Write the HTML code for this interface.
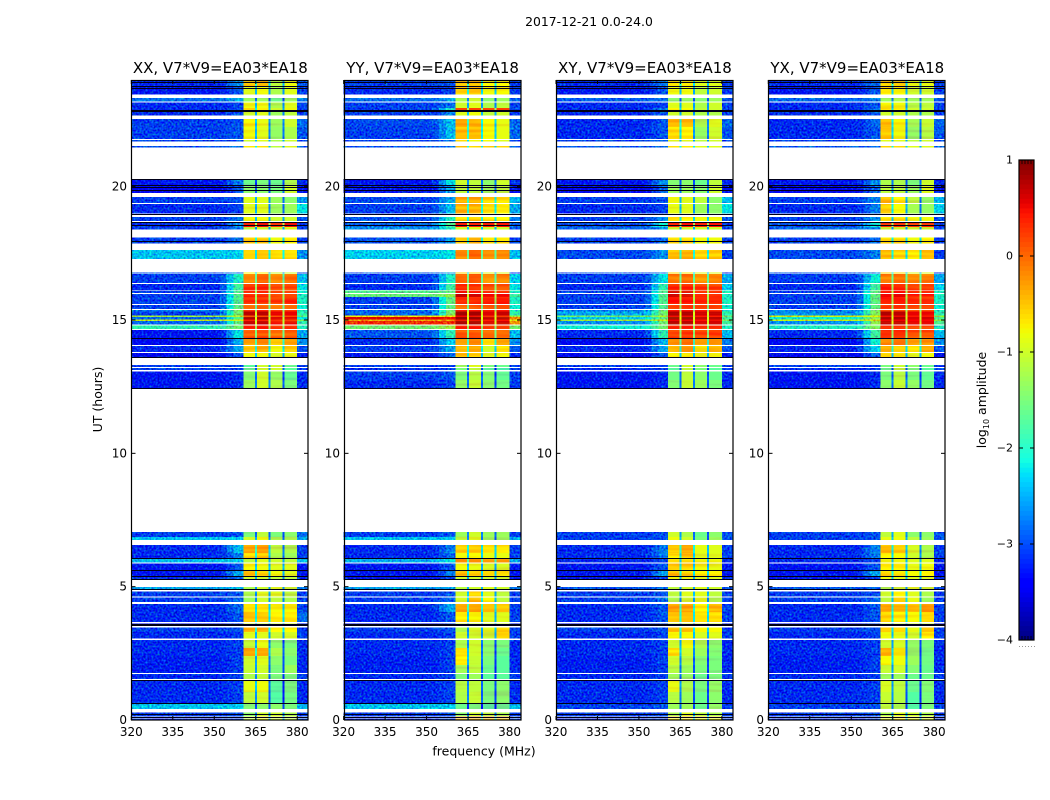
<!DOCTYPE html>
<html lang="en">
<head>
<meta charset="utf-8">
<title>2017-12-21 0.0-24.0</title>
<style>
html,body{margin:0;padding:0;background:#fff;}
body{width:1050px;height:800px;overflow:hidden;}
svg{display:block;}
text{font-family:"DejaVu Sans","Liberation Sans",sans-serif;fill:#000;}
</style>
</head>
<body>
<svg id="figure" xmlns="http://www.w3.org/2000/svg" width="1050" height="800" viewBox="0 0 1050 800">
  <defs>
    <filter id="grain" x="0" y="0" width="100%" height="100%" color-interpolation-filters="sRGB">
      <feTurbulence type="fractalNoise" baseFrequency="0.5" numOctaves="1" seed="7" result="n"/>
      <feColorMatrix in="n" type="matrix" values="0 0 0 0 0.5  1 0 0 0 0  0 0.6 0 0 0.2  0 0 0 0 1" result="g"/>
      <feComposite in="SourceGraphic" in2="g" operator="arithmetic" k1="0" k2="1" k3="1.1" k4="-0.61" result="m"/>
      <feComposite in="m" in2="SourceAlpha" operator="in"/>
    </filter>
    <filter id="stripes" x="0" y="0" width="100%" height="100%" color-interpolation-filters="sRGB">
      <feTurbulence type="fractalNoise" baseFrequency="0.015 0.3" numOctaves="1" seed="11" result="n"/>
      <feColorMatrix in="n" type="matrix" values="0 0 0 0 0.5  1 0 0 0 0  0 0 0 0 0.5  0 0 0 0 1" result="g"/>
      <feComposite in="SourceGraphic" in2="g" operator="arithmetic" k1="0" k2="1" k3="0.5" k4="-0.25" result="m"/>
      <feComposite in="m" in2="SourceAlpha" operator="in"/>
    </filter>
  </defs>
  <text x="589" y="26" font-size="12.4" text-anchor="middle">2017-12-21 0.0-24.0</text>
  <text x="484" y="755.5" font-size="12.5" text-anchor="middle">frequency (MHz)</text>
  <text x="0" y="0" font-size="12.5" text-anchor="middle" transform="translate(102,399.5) rotate(-90)">UT (hours)</text>
  <text x="0" y="0" font-size="12.5" text-anchor="middle" transform="translate(986,400) rotate(-90)">log<tspan font-size="8" dy="3">10</tspan><tspan dy="-3"> amplitude</tspan></text>
  <g id="panels"></g>
  <g id="colorbar"></g>
</svg>
<script>
const panelTitles = ["XX, V7*V9=EA03*EA18", "YY, V7*V9=EA03*EA18", "XY, V7*V9=EA03*EA18", "YX, V7*V9=EA03*EA18"];
const panelKeys = ["xx", "yy", "xy", "yx"];
const freqTicks = [320, 335, 350, 365, 380];
const hourTicks = [0, 5, 10, 15, 20];
const colorbarTicks = [1, 0, -1, -2, -3, -4];
const colorbarTickText = ["1", "0", "\u22121", "\u22122", "\u22123", "\u22124"];
const freqEdges = [320, 352, 354.5, 357, 360.5, 365, 370, 375, 380, 384];
const notchFreqs = [365, 370, 375];
const zeroRowHours = [23.91, 23.78, 23.69, 22.87, 22.83, 20.29, 20.06, 19.97, 19.86, 18.99, 18.97, 18.68, 18.56, 17.96, 14.31, 13.61, 12.45, 6.06, 5.64, 5.41, 5.29, 4.90, 3.60, 3.55, 1.50, 0.63, 0.21, 0.11];
const rowTopHour = [
 24.00,23.78,23.33,23.15,22.95,22.81,22.54,22.24,21.75,21.53,
 20.29,20.06,19.61,19.35,18.87,18.66,18.49,18.09,17.63,16.79,
 16.73,16.35,16.10,15.98,15.86,15.56,15.38,15.31,15.17,15.11,
 15.02,14.96,14.79,14.63,14.29,14.03,13.76,13.31,13.20,13.06,
 12.75,7.05,6.87,6.56,6.26,6.04,5.87,5.63,5.40,4.98,
 4.81,4.60,4.35,4.05,3.62,3.47,3.30,3.00,2.70,2.40,
 2.06,1.73,1.46,1.05,0.60,0.28,0.13,0.05];
const rowBottomHour = [
 23.78,23.45,23.19,22.95,22.86,22.66,22.24,21.79,21.69,21.46,
 20.06,19.77,19.38,19.00,18.72,18.49,18.40,17.86,17.29,16.75,
 16.39,16.13,16.01,15.86,15.60,15.41,15.31,15.17,15.11,15.02,
 14.96,14.83,14.66,14.33,14.06,13.80,13.61,13.23,13.13,12.75,
 12.45,6.87,6.75,6.26,6.08,5.91,5.63,5.40,5.29,4.89,
 4.63,4.43,4.05,3.68,3.53,3.30,3.05,2.70,2.40,2.06,
 1.77,1.54,1.05,0.60,0.42,0.15,0.08,0];
const xxLevels = [
[-3.1,-2.6,-.5,-.4,-1.1,-.8,-2.9],[-3.2,-2.9,-.9,-.8,-1.2,-.9,-3],[-2.75,-2.5,-1.3,-1.3,-1.6,-1.3,-2.7],[-3.1,-3,-.8,-.8,-1.2,-.9,-3],[-3.1,-2.9,-.5,-.7,-1,-.8,-3],
[-3.1,-2.9,-1,-.9,-1.3,-1.1,-3],[-3,-2.9,-.75,-.85,-1.3,-1,-2.8],[-3,-2.9,-.8,-.9,-1.35,-1.2,-2.9],[-3,-2.9,-1,-.9,-1.2,-1,-3],[-2.9,-2.8,-.6,-.6,-1.1,-.9,-2.9],
[-3.2,-2.7,-1.6,-1.5,-1.6,-1.2,-3.1],[-3.3,-2.9,-1.4,-1.4,-1.5,-1,-3.2],[-3,-2.9,-.9,-.9,-1.3,-1.4,-2.6],[-3.1,-3,-.9,-.9,-1.3,-1.3,-2.2],[-3,-2.7,-.8,-.8,-1,-1,-2.9],
[-3.1,-2.6,.4,.5,.3,.5,-3],[-3,-2.7,-1.1,-1,-1,-.9,-3],[-3,-2.8,-.5,-.5,-.8,-.7,-3],[-2.35,-2.3,-.65,-.55,-.6,-.55,-2.6],[-2.9,-2.7,-.7,-.7,-1,-1,-3],
[-3,-2,-.1,.05,-.2,-.1,-2.4],[-3.1,-1.8,.25,.3,.1,.15,-2.2],[-3,-1.7,.35,.35,.2,.2,-2.1],[-3,-1.7,.35,.35,.25,.3,-2],[-3,-1.7,.25,.25,.2,.3,-2],
[-3,-1.6,-.1,0,-.1,0,-2.1],[-2.7,-1.4,.2,.3,.2,.2,-2],[-3,-1.5,.75,.75,.55,.55,-1.9],[-1.2,-1,.2,.2,.1,.1,-1.6],[-2.8,-1.7,.8,.8,.6,.6,-2.2],
[-1,-.9,.4,.4,.4,.4,-1.4],[-2.8,-1.6,.7,.7,.5,.55,-1.9],[-1.9,-1.5,.3,.35,.2,.3,-2],[-3.2,-2.2,.1,.15,0,.1,-2.5],[-3.3,-2.5,-.25,-.1,-.5,-.3,-2.6],
[-3.1,-2.5,-.55,-.4,-.8,-.5,-2.9],[-3.3,-2.9,-.8,-.8,-.95,-.85,-3.2],[-3,-3,-1.7,-1,-1,-1.6,-3],[-3,-3,-1.6,-1,-1,-1.7,-3],[-3.2,-3.1,-1.45,-1,-1.35,-1.65,-3.1],
[-3.2,-3.1,-1.3,-1,-1.2,-1.5,-3.1],[-3,-2.9,-1.5,-1.1,-1.5,-1.4,-2.8],[-2.35,-2.3,-1,-.8,-1.2,-1.2,-2.5],[-3.1,-2.4,-.3,-.3,-1.1,-1.2,-3],[-3.1,-2.7,-.6,-.5,-1.2,-1.3,-3],
[-2.4,-2.3,-1.1,-.9,-1,-1.1,-2.4],[-3.2,-2.9,-.75,-.8,-.9,-.9,-3.2],[-3.2,-2.5,-.5,-.6,-.8,-.9,-3.2],[-3.1,-2.8,-1,-1,-1.1,-1.1,-3.1],[-2.5,-2.4,-1.2,-1,-.9,-1,-2.7],
[-3,-2.9,-1.2,-.9,-.9,-1.1,-3],[-3,-2.8,-1.3,-1,-1.1,-1.2,-3],[-3.1,-2.8,-.65,-.65,-.75,-.75,-3],[-3.1,-2.9,-.55,-.55,-.7,-.65,-2.8],[-3.3,-3,-1,-1,-1,-1,-3.2],
[-3,-2.9,-.4,-.35,-.7,-.7,-3],[-3.1,-3,-.9,-.9,-1,-.95,-3],[-3.1,-3,-1.05,-.85,-1.4,-1.5,-3.1],[-3.1,-3,-.35,-.35,-1.2,-1.4,-3.1],[-3.15,-3,-1,-.9,-1.4,-1.5,-3.1],
[-3.15,-3,-1.05,-1,-1.5,-1.3,-3.1],[-3.1,-3,-1.2,-1.1,-1.5,-1.5,-3],[-3.1,-3,-.85,-.8,-1.7,-1.5,-3.1],[-3.1,-3,-1.1,-1,-1.75,-1.55,-3.1],[-2.35,-2.3,-1.45,-1.4,-1.4,-1.5,-2.4],
[-3,-2.9,-1.4,-1,-1,-1.2,-3],[-3,-2.9,-1,-.6,-.8,-1,-3],[-3.1,-3,-1.1,-.8,-1,-1.1,-3]];
const yyLevels = [
[-3,-2.9,-.45,-.4,-.7,-.7,-3],[-3.1,-3,-.55,-.5,-.8,-.75,-3],[-2.75,-2.5,-1.2,-1,-1.4,-1.3,-2.8],[-3,-2.8,-1,-.9,-1.2,-1.1,-3],[-3,-2,.2,.2,.2,.3,-3],
[-3,-2.7,-.9,-.8,-1.1,-1,-3],[-2.95,-2.4,-.35,-.4,-.75,-.85,-2.8],[-3,-2.4,-.45,-.45,-.75,-.85,-2.8],[-3,-2.7,-.6,-.8,-.8,-.9,-3],[-2.9,-2.6,-.4,-.6,-.6,-.7,-2.9],
[-3.2,-2.2,-1,-1.1,-1.4,-1,-3.1],[-3.2,-2.5,-1.1,-1.1,-1.3,-1.1,-3.2],[-2.95,-2.5,-.35,-.35,-.55,-.6,-2.4],[-3,-2.4,-.4,-.4,-.6,-.65,-2.5],[-2.9,-2,-.6,-.5,-.6,-.7,-2.7],
[-2.8,-1.7,.45,.4,.4,.45,-2.8],[-2.6,-2,-1,-.9,-1,-1,-2.9],[-2.9,-2.6,-.5,-.4,-.7,-.7,-3],[-2.3,-2.2,-.15,.05,-.15,-.1,-2.4],[-2.9,-2.6,-.6,-.6,-.9,-.9,-3],
[-3,-2,-.05,.1,-.2,-.1,-2.3],[-3.1,-1.8,.35,.3,.2,.15,-2.2],[-1.7,-1.6,.5,.45,.35,.3,-2],[-1.55,-1.3,.7,.65,.5,.5,-1.8],[-3,-1.6,.35,.3,.3,.3,-2],
[-3,-1.6,0,.05,0,0,-2.1],[-2.8,-1.5,.4,.4,.3,.3,-2],[-2.8,-1.4,.85,.85,.6,.7,-1.9],[-.7,-.6,.5,.5,.4,.4,-1.2],[.55,.45,.9,.9,.7,.75,-.2],
[-.4,-.3,.5,.5,.4,.4,-.8],[.25,.2,.8,.8,.6,.65,-.3],[-1.5,-1.2,.3,.35,.2,.2,-1.5],[-2.9,-1.9,.1,.15,.05,.05,-2.4],[-3.1,-2.3,-.3,-.15,-.6,-.3,-2.6],
[-3,-2.5,-.45,-.3,-1,-.6,-2.9],[-3.2,-2.8,-.5,-.6,-.9,-.8,-3.1],[-3,-3,-1.3,-.9,-1.5,-1.6,-3],[-3.1,-3,-1.5,-1.1,-1.7,-1.8,-3],[-3,-2.9,-1.5,-1.15,-1.45,-1.65,-3],
[-3.1,-3,-1.35,-1.05,-1.4,-1.55,-3],[-3,-2.9,-1.3,-1,-1.3,-1.3,-3],[-2.35,-2.3,-1.1,-.9,-1.3,-1.3,-2.5],[-3.1,-2.7,-.55,-.55,-.7,-.7,-3],[-3.1,-2.8,-.8,-.75,-.85,-.85,-3],
[-2.45,-2.2,-.2,-.2,-.3,-.3,-2.5],[-3.2,-2.9,-.8,-.85,-.95,-.95,-3.2],[-3.2,-2.7,-.45,-.6,-.7,-.7,-3.2],[-3.2,-3,-1,-1,-1,-1,-3.1],[-2.5,-2.5,-1.1,-1,-.9,-1,-2.7],
[-3,-2.9,-1,-.6,-.9,-1.1,-3],[-3,-2.8,-.95,-.45,-.75,-1.1,-3],[-3.1,-2.5,-.3,-.35,-.55,-.6,-3],[-3.1,-2.9,-.7,-.75,-.9,-.9,-3],[-3.3,-3,-1,-1,-1,-1,-3.2],
[-3,-2.9,-1.2,-.95,-.9,-.6,-3],[-3.1,-3,-1,-1,-1,-.7,-3],[-3.1,-3,-1.2,-1,-1.4,-1.5,-3.1],[-3.1,-3,-.65,-1,-1.4,-1.6,-3.1],[-3.15,-3,-.7,-1.05,-1.5,-1.7,-3.1],
[-3.15,-3,-1.25,-1.1,-1.6,-1.7,-3.1],[-3.1,-3,-1.5,-1.3,-1.7,-1.7,-3],[-3.1,-3,-1.15,-1.1,-1.5,-1.4,-3.1],[-3.1,-3,-1.2,-1.05,-1.5,-1.4,-3.1],[-2.35,-2.3,-1.6,-1.5,-1.7,-1.6,-2.4],
[-3,-2.9,-1.4,-1,-1.1,-1.2,-3],[-3,-2.9,-.4,-.3,-.4,-.4,-3],[-3.1,-3,-.55,-.45,-.5,-.5,-3]];
const xyLevels = [
[-3.1,-2.7,-.6,-.6,-.9,-.9,-3],[-3.2,-2.9,-.8,-.8,-1.1,-1,-3],[-2.85,-2.8,-1.4,-1.35,-1.45,-1.3,-2.9],[-3.1,-3,-.9,-.9,-1.2,-1,-3],[-3.1,-2.7,-.7,-.75,-1.1,-1,-3],
[-3.1,-2.9,-1,-1,-1.2,-1.2,-3],[-3.1,-2.9,-.45,-.5,-1.2,-.9,-2.8],[-3.1,-2.9,-.6,-.7,-1.35,-1,-2.9],[-3,-2.9,-.9,-.9,-1.1,-1,-3],[-2.9,-2.8,-.6,-.6,-.9,-.9,-2.9],
[-3.2,-2.6,-1.45,-1.4,-1.6,-1.1,-3.1],[-3.3,-2.8,-1.3,-1.3,-1.4,-1,-3.2],[-3,-2.9,-.8,-.9,-1.1,-1.4,-2.4],[-3.1,-3,-.85,-.9,-1.3,-1.4,-2.2],[-3,-2.6,-.6,-.7,-.8,-.8,-2.9],
[-2.9,-2.1,.35,.4,.3,.4,-3],[-2.8,-2.6,-1,-1,-1,-1,-3],[-3,-2.8,-.6,-.6,-.8,-.8,-3],[-2.95,-2.6,-.45,-.4,-.6,-.55,-3],[-2.9,-2.7,-.6,-.6,-.9,-.9,-3],
[-3,-2.2,-.1,0,-.2,-.1,-2.5],[-3.1,-1.9,.3,.3,.2,.2,-2.3],[-3,-1.7,.6,.55,.4,.4,-2],[-3,-1.7,.65,.6,.45,.4,-2],[-3,-1.7,.45,.4,.35,.35,-2],
[-3,-1.7,.2,.2,.1,.15,-2.1],[-2.7,-1.5,.3,.3,.25,.2,-2],[-2.5,-1.5,.8,.8,.65,.7,-1.9],[-1.5,-1.1,.5,.5,.4,.4,-1.5],[-2.3,-1.6,.85,.85,.7,.75,-1.8],
[-1.2,-1,.5,.5,.45,.5,-1.4],[-2.6,-1.5,.75,.75,.6,.65,-1.8],[-2.1,-1.5,.3,.35,.25,.3,-2],[-3.1,-1.9,.2,.25,.15,.2,-2.4],[-3.3,-2.4,-.2,-.1,-.4,-.3,-2.7],
[-3.1,-2.5,-.5,-.35,-.75,-.5,-2.9],[-3.3,-2.9,-.75,-.75,-.85,-.8,-3.2],[-3,-3,-1.6,-1,-1.4,-1.6,-3],[-3.1,-3,-1.7,-1.1,-1.5,-1.7,-3],[-3.2,-3.1,-1.55,-1.1,-1.4,-1.6,-3.1],
[-3.2,-3.1,-1.45,-1.05,-1.3,-1.5,-3.1],[-3,-2.9,-1,-1.2,-1.6,-1.4,-2.9],[-3,-2.9,-.8,-1,-1.5,-1.3,-2.9],[-3.1,-2.7,-.5,-.3,-.85,-.9,-3],[-3.1,-2.7,-.7,-.5,-.9,-.9,-3],
[-3.1,-3,-.7,-.7,-.8,-.8,-3.1],[-3.2,-2.9,-.55,-.6,-.8,-.85,-3.2],[-3.2,-2.5,-.45,-.55,-.7,-.7,-3.2],[-3.2,-3,-.8,-.8,-.9,-.9,-3.1],[-2.9,-2.8,-1.1,-1,-.9,-1,-2.9],
[-3,-2.9,-1.1,-.9,-.9,-1.1,-3],[-3,-2.8,-1.2,-1,-.9,-1.2,-3],[-3.1,-2.9,-.3,-.3,-.7,-.4,-3],[-3.1,-2.9,-.5,-.5,-.7,-.65,-3],[-3.3,-3,-1,-1,-1,-1,-3.2],
[-3,-2.9,-.45,-.45,-.75,-.75,-3],[-3.1,-3,-.75,-.75,-.95,-.9,-3],[-3.1,-3,-1,-.8,-1.2,-1.4,-3.1],[-3.1,-3,-.6,-1,-1.3,-1.45,-3.1],[-3.15,-3,-1,-1.15,-1.45,-1.5,-3.1],
[-3.15,-3,-1.15,-1.3,-1.5,-1.5,-3.1],[-3.1,-3,-1.3,-1.35,-1.6,-1.5,-3],[-3.1,-3,-.85,-1.2,-1.5,-1.35,-3.1],[-3.1,-3,-1.15,-1.3,-1.6,-1.4,-3.1],[-3,-2.9,-1.3,-1.3,-1.6,-1.35,-3],
[-3,-2.9,-1.2,-.9,-1.1,-1.2,-3],[-3,-2.9,-.5,-.5,-.6,-.7,-3],[-3.1,-3,-.7,-.7,-.8,-.8,-3]];
const yxLevels = [
[-3.1,-2.8,-.55,-.55,-.85,-.85,-3],[-3.2,-2.9,-.7,-.75,-1,-1,-3],[-2.8,-2.7,-1.3,-1.2,-1.3,-1.3,-2.9],[-3.1,-2.9,-.75,-.8,-1.15,-1.1,-3],[-3.1,-2.7,-.65,-.7,-1,-1,-3],
[-3.1,-2.9,-1,-1,-1.2,-1.2,-3],[-3.1,-2.8,-.45,-.75,-1.25,-1.05,-2.8],[-3.1,-2.9,-.55,-.8,-1.35,-1.15,-2.9],[-3,-2.9,-.9,-.9,-1.1,-1,-3],[-2.9,-2.8,-.55,-.6,-.9,-.9,-2.9],
[-3.2,-2.6,-1.2,-1.2,-1.5,-1,-3.1],[-3.3,-2.8,-1.1,-1.1,-1.3,-.9,-3.2],[-3,-2.7,-.45,-.7,-1.1,-1.35,-2.4],[-3.1,-2.7,-.5,-.75,-1.25,-1.35,-2.3],[-3,-2.6,-.7,-.7,-.8,-.8,-2.9],
[-2.9,-2.1,.3,.35,.3,.35,-3],[-2.8,-2.6,-1,-1,-1,-1,-3],[-3,-2.8,-.6,-.6,-.8,-.7,-3],[-2.95,-2.7,-.45,-.6,-.7,-.45,-3],[-2.9,-2.7,-.6,-.6,-.9,-.9,-3],
[-3,-2.1,-.1,0,-.15,-.1,-2.5],[-3.1,-1.8,.35,.3,.2,.25,-2.3],[-3,-1.6,.4,.45,.3,.35,-2],[-3,-1.6,.5,.55,.35,.35,-2],[-3,-1.6,.35,.35,.3,.3,-2],
[-3,-1.6,.2,.25,.15,.15,-2.1],[-2.7,-1.4,.3,.3,.2,.2,-2],[-2.6,-1.4,.8,.75,.55,.55,-1.9],[-.9,-.8,.5,.5,.4,.4,-1.3],[-2.1,-1.3,.8,.8,.6,.65,-1.7],
[-1,-.9,.5,.5,.45,.45,-1.3],[-2.6,-1.3,.7,.7,.55,.55,-1.7],[-2,-1.4,.3,.3,.2,.25,-2],[-3.1,-1.8,.25,.25,.1,.1,-2.4],[-3.3,-2.1,-.25,-.15,-.35,-.25,-2.6],
[-3.1,-2.3,-.4,-.6,-.7,-.4,-2.9],[-3.3,-2.8,-.7,-.75,-.9,-.8,-3.2],[-3,-3,-1.5,-1.05,-1.4,-1.6,-3],[-3.1,-3,-1.6,-1.1,-1.5,-1.7,-3],[-3.2,-3.1,-1.5,-1.15,-1.5,-1.65,-3.1],
[-3.2,-3.1,-1.4,-1.05,-1.35,-1.55,-3.1],[-3,-2.9,-1.1,-.9,-1.4,-1.4,-2.9],[-3,-2.9,-.85,-.8,-1.1,-1.3,-2.9],[-3.1,-2.7,-.5,-.6,-.95,-1.2,-3],[-3.1,-2.7,-.7,-.75,-1,-1.2,-3],
[-3.1,-3,-.8,-.8,-.9,-.9,-3.1],[-3.2,-2.9,-.7,-.7,-.85,-.8,-3.2],[-3.2,-2.5,-.5,-.55,-.75,-.7,-3.2],[-3.2,-3,-.8,-.85,-.9,-.9,-3.1],[-2.9,-2.8,-1.2,-1,-.9,-1,-2.9],
[-3,-2.9,-1,-.7,-.9,-1.2,-3],[-3,-2.8,-1.1,-.55,-.85,-1.3,-3],[-3.1,-2.9,-.4,-.5,-.5,-.25,-3],[-3.1,-2.9,-.55,-.65,-.75,-.6,-3],[-3.3,-3,-1,-1,-1,-1,-3.2],
[-3,-2.9,-.6,-.65,-.85,-.5,-3],[-3.1,-3,-.8,-.85,-1,-.7,-3],[-3.1,-3,-1,-.95,-1.35,-1.5,-3.1],[-3.1,-3,-.45,-.75,-1.35,-1.55,-3.1],[-3.15,-3,-.75,-.8,-1.3,-1.55,-3.1],
[-3.15,-3,-1.05,-1,-1.45,-1.6,-3.1],[-3.1,-3,-1.3,-1.3,-1.6,-1.6,-3],[-3.1,-3,-.95,-1.1,-1.6,-1.45,-3.1],[-3.1,-3,-1.05,-1.15,-1.75,-1.5,-3.1],[-3,-2.9,-1.1,-1.2,-1.75,-1.5,-3],
[-3,-2.9,-1.2,-.9,-1,-1.2,-3],[-3,-2.9,-.7,-.55,-.7,-.8,-3],[-3.1,-3,-.85,-.7,-.8,-.9,-3]];
const panelLevels = [xxLevels, yyLevels, xyLevels, yxLevels];

const NS = "http://www.w3.org/2000/svg";
const AXIS_TOP = 80, AXIS_BOTTOM = 720, AXIS_WIDTH = 177;
const FREQ_MIN = 320, FREQ_MAX = 384, HOUR_MAX = 24;
const CB_LEFT = 1019, CB_WIDTH = 15, CB_TOP = 160, CB_BOTTOM = 640, CB_MIN = -4, CB_MAX = 1, CB_STEPS = 100;

function panelLeft(i) { return 131.3 + i * 212.33; }
function xScale(i, f) { return panelLeft(i) + (f - FREQ_MIN) / (FREQ_MAX - FREQ_MIN) * AXIS_WIDTH; }
function yScale(h) { return AXIS_BOTTOM - h / HOUR_MAX * (AXIS_BOTTOM - AXIS_TOP); }
function cbScale(v) { return CB_BOTTOM - (v - CB_MIN) / (CB_MAX - CB_MIN) * (CB_BOTTOM - CB_TOP); }

function lerp(t, pts) {
  for (let k = 1; k < pts.length; k++) {
    if (t <= pts[k][0]) {
      const a = pts[k - 1], b = pts[k];
      return a[1] + (b[1] - a[1]) * (t - a[0]) / (b[0] - a[0]);
    }
  }
  return pts[pts.length - 1][1];
}
function jet(v) {
  const t = Math.max(0, Math.min(1, (v - CB_MIN) / (CB_MAX - CB_MIN)));
  const r = lerp(t, [[0, 0], [.35, 0], [.66, 1], [.89, 1], [1, .5]]);
  const g = lerp(t, [[0, 0], [.125, 0], [.375, 1], [.64, 1], [.91, 0], [1, 0]]);
  const b = lerp(t, [[0, .5], [.11, 1], [.34, 1], [.65, 0], [1, 0]]);
  return "rgb(" + Math.round(r * 255) + "," + Math.round(g * 255) + "," + Math.round(b * 255) + ")";
}
function mk(tag, parent, attrs) {
  const e = document.createElementNS(NS, tag);
  for (const k in attrs) e.setAttribute(k, attrs[k]);
  parent.appendChild(e);
  return e;
}
/* Map one row of levels (background, shoulder, 4 blocks, edge) to the freqEdges columns. */
function columnValues(L) {
  return [L[0], L[0] + (L[1] - L[0]) * 0.15, L[0] + (L[1] - L[0]) * 0.6, L[1], L[2], L[3], L[4], L[5], L[6]];
}
function notchValue(L, n) {
  return (L[2 + n] + L[3 + n]) / 2 - 1.6;
}

const panelsRoot = document.getElementById("panels");
panelLevels.forEach(function (levels, p) {
  const key = panelKeys[p];
  const left = Math.round(panelLeft(p)) + 0.5;
  const g = mk("g", panelsRoot, {});
  
  

  const title = mk("text", g, { x: panelLeft(p) + AXIS_WIDTH / 2 + 0.5, y: 73, "font-size": 15, "text-anchor": "middle" });
  title.textContent = panelTitles[p];
  
  

  const noisy = mk("g", g, { filter: "url(#grain)" });
  
  
  const plain = mk("g", g, { filter: "url(#stripes)" });
  
  

  levels.forEach(function (L, r) {
    const y0 = yScale(rowTopHour[r]), y1 = yScale(rowBottomHour[r]);
    const vals = columnValues(L);
    vals.forEach(function (v, c) {
      const x0 = xScale(p, freqEdges[c]), x1 = xScale(p, freqEdges[c + 1]);
      const isBlock = c >= 4 && c <= 7;
      const cell = mk("rect", isBlock ? plain : noisy, { x: x0.toFixed(2), y: y0.toFixed(2), width: (x1 - x0).toFixed(2), height: (y1 - y0).toFixed(2), fill: jet(v), "shape-rendering": "crispEdges" });
      
      
    });
    notchFreqs.forEach(function (f, n) {
      const x = xScale(p, f);
      const notch = mk("rect", plain, { x: (x - 1).toFixed(2), y: y0.toFixed(2), width: 2, height: (y1 - y0).toFixed(2), fill: jet(notchValue(L, n)), "shape-rendering": "crispEdges" });
      
      
    });
  });

  zeroRowHours.forEach(function (h) {
    const z = mk("rect", g, { x: panelLeft(p), y: Math.round(yScale(h)), width: AXIS_WIDTH, height: 1, fill: "#000018" });
    
    
  });

  const frameOuter = mk("rect", g, { x: left, y: 80.5, width: AXIS_WIDTH - 0.5, height: 639.5, fill: "none", stroke: "#000", "stroke-width": 1.2 });
  
  

  freqTicks.forEach(function (f) {
    const x = xScale(p, f);
    const t1 = mk("line", g, { x1: x, x2: x, y1: 720, y2: 716, stroke: "#000", "stroke-width": 1 });
    
    
    const t2 = mk("line", g, { x1: x, x2: x, y1: 80, y2: 84, stroke: "#000", "stroke-width": 1 });
    
    
    const lab = mk("text", g, { x: x, y: 736, "font-size": 12, "text-anchor": "middle" });
    lab.textContent = String(f);
    
    
  });
  hourTicks.forEach(function (h) {
    const y = yScale(h);
    const t1 = mk("line", g, { x1: left, x2: left + 4, y1: y, y2: y, stroke: "#000", "stroke-width": 1 });
    
    
    const t2 = mk("line", g, { x1: left + AXIS_WIDTH - 4.5, x2: left + AXIS_WIDTH - 0.5, y1: y, y2: y, stroke: "#000", "stroke-width": 1 });
    
    
    const lab = mk("text", g, { x: left - 4.5, y: y + 4, "font-size": 12, "text-anchor": "end" });
    lab.textContent = String(h);
    
    
  });
});

const cb = document.getElementById("colorbar");
for (let s = 0; s < CB_STEPS; s++) {
  const lo = CB_MIN + (CB_MAX - CB_MIN) * s / CB_STEPS;
  const hi = CB_MIN + (CB_MAX - CB_MIN) * (s + 1) / CB_STEPS;
  const seg = mk("rect", cb, { x: CB_LEFT, y: cbScale(hi).toFixed(2), width: CB_WIDTH, height: (cbScale(lo) - cbScale(hi) + (s > 0 ? 0.5 : 0)).toFixed(2), fill: jet((lo + hi) / 2) });
  
  
}
const cbFrame = mk("rect", cb, { x: CB_LEFT, y: CB_TOP, width: CB_WIDTH, height: CB_BOTTOM - CB_TOP, fill: "none", stroke: "#000", "stroke-width": 1.2 });


colorbarTicks.forEach(function (v, i) {
  const y = cbScale(v);
  const l1 = mk("line", cb, { x1: CB_LEFT, x2: CB_LEFT + 4, y1: y, y2: y, stroke: "#000" });
  
  
  const l2 = mk("line", cb, { x1: CB_LEFT + CB_WIDTH - 4, x2: CB_LEFT + CB_WIDTH, y1: y, y2: y, stroke: "#000" });
  
  
  const t = mk("text", cb, { x: CB_LEFT - 6, y: y + 3.5, "font-size": 11, "text-anchor": "end" });
  t.textContent = colorbarTickText[i];
  
  
});
for (let k = 0; k < 6; k++) {
  const x = CB_LEFT + k * 3;
  const tt = mk("line", cb, { x1: x, x2: x, y1: CB_TOP, y2: CB_TOP + 4, stroke: "#000", "stroke-width": 0.8 });
  
  
  const tb = mk("line", cb, { x1: x, x2: x, y1: CB_BOTTOM, y2: CB_BOTTOM - 4, stroke: "#000", "stroke-width": 0.8 });
  
  
  const dot = mk("rect", cb, { x: x, y: 646, width: 1, height: 1, fill: "#999" });
  
  
}
</script>
</body>
</html>
